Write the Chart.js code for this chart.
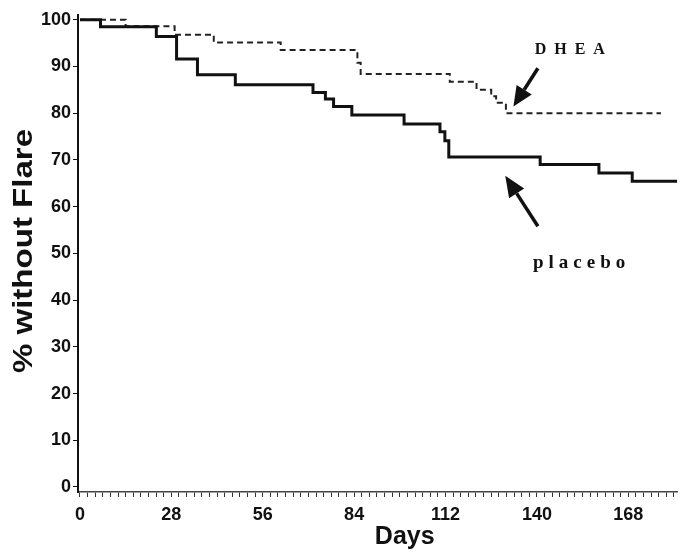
<!DOCTYPE html>
<html>
<head>
<meta charset="utf-8">
<script src="https://cdn.jsdelivr.net/npm/chart.js@4.4.0/dist/chart.umd.min.js"></script>
<style>
  html, body { margin: 0; padding: 0; background: #fff; }
  #wrap { width: 681px; height: 552px; }
</style>
</head>
<body>
<div id="wrap"><canvas id="km"></canvas></div>
<script>
// Kaplan-Meier steps (day where the step starts, % without flare)
const placeboDays = [0, 6.3, 23.4, 29.6, 36, 47.6, 71.4, 75.2, 77.7, 83.3, 99.3, 110.3, 111.8, 113, 141, 159, 169.2, 183];
const placeboPct  = [100, 98.5, 96.4, 91.6, 88.2, 86.1, 84.4, 83.0, 81.4, 79.6, 77.7, 76.0, 74.1, 70.6, 69.0, 67.2, 65.4, 65.4];
const dheaDays = [0, 14, 29, 41, 61.5, 85, 86, 113.3, 121.5, 126, 127.5, 130.5, 178];
const dheaPct  = [100, 98.6, 96.8, 95.1, 93.5, 90.8, 88.4, 86.7, 85.0, 83.6, 82.2, 80.0, 80.0];

const xTickLabels = [0, 28, 56, 84, 112, 140, 168];
const yTickLabels = [0, 10, 20, 30, 40, 50, 60, 70, 80, 90, 100];
const xMinorPerMajor = 12;

function toPoints(days, pct) {
  return days.map(function (d, i) { return { x: d, y: pct[i] }; });
}

// minor tick positions along the day axis
var xTicks = [];
for (var i = 0; i * 28 / xMinorPerMajor <= 183; i++) {
  xTicks.push({ value: i * 28 / xMinorPerMajor, major: i % xMinorPerMajor === 0 });
}

function drawArrow(ctx, x0, y0, x1, y1, len, half) {
  var a = Math.atan2(y1 - y0, x1 - x0);
  var bx = x1 - len * Math.cos(a), by = y1 - len * Math.sin(a);
  ctx.beginPath();
  ctx.moveTo(x0, y0);
  ctx.lineTo(bx, by);
  ctx.stroke();
  ctx.beginPath();
  ctx.moveTo(x1, y1);
  ctx.lineTo(bx + half * Math.sin(a), by - half * Math.cos(a));
  ctx.lineTo(bx - half * Math.sin(a), by + half * Math.cos(a));
  ctx.closePath();
  ctx.fill();
}

const notes = {
  id: "notes",
  afterDraw(chart) {
    var ctx = chart.ctx;
    var x = chart.scales.x, y = chart.scales.y;
    ctx.save();
    ctx.fillStyle = "#111";
    ctx.strokeStyle = "#111";

    // series labels
    ctx.font = 'bold 16px "Liberation Serif"';
    ctx.textBaseline = "alphabetic";
    ctx.textAlign = "left";
    ctx.letterSpacing = "8px";
    ctx.fillText("DHEA", x.getPixelForValue(139.3), y.getPixelForValue(92.6));
    ctx.font = 'bold 19px "Liberation Serif"';
    ctx.letterSpacing = "5px";
    ctx.fillText("placebo", x.getPixelForValue(138.8), y.getPixelForValue(46.8));
    ctx.letterSpacing = "0px";

    // arrows
    ctx.lineWidth = 3.5;
    drawArrow(ctx, x.getPixelForValue(140.3), y.getPixelForValue(89.6),
                   x.getPixelForValue(132.8), y.getPixelForValue(81.4), 20, 9);
    drawArrow(ctx, x.getPixelForValue(140.3), y.getPixelForValue(55.8),
                   x.getPixelForValue(130.3), y.getPixelForValue(66.6), 21, 9);

    // axis titles
    ctx.font = 'bold 25px "Liberation Sans"';
    ctx.textAlign = "center";
    ctx.textBaseline = "middle";
    ctx.fillText("Days", x.getPixelForValue(99.5), chart.height - 15);

    ctx.translate(y.left + 24, y.getPixelForValue(50.5));
    ctx.rotate(-Math.PI / 2);
    ctx.scale(1.18, 1);
    ctx.font = 'bold 28px "Liberation Sans"';
    ctx.fillText("% without Flare", 0, 0);
    ctx.restore();
  }
};

const tickFont = { family: '"Liberation Sans", Arial, sans-serif', size: 18, weight: "bold" };

new Chart(document.getElementById("km"), {
  type: "line",
  data: {
    datasets: [
      {
        label: "placebo",
        data: toPoints(placeboDays, placeboPct),
        stepped: true,
        borderColor: "#111",
        borderWidth: 3,
        pointRadius: 0,
        fill: false,
      },
      {
        label: "DHEA",
        data: toPoints(dheaDays, dheaPct),
        stepped: true,
        borderColor: "#222",
        borderWidth: 2,
        borderDash: [6, 4],
        pointRadius: 0,
        fill: false,
      },
    ],
  },
  options: {
    responsive: true,
    maintainAspectRatio: false,
    animation: false,
    layout: { padding: { top: 15, right: 0, left: 0, bottom: 0 } },
    plugins: { legend: { display: false }, tooltip: { enabled: false } },
    scales: {
      x: {
        type: "linear",
        min: -0.6,
        max: 183,
        afterBuildTicks: function (scale) {
          scale.ticks = xTicks.map(function (t) { return { value: t.value }; });
        },
        afterFit: function (scale) { scale.height = 60; },
        ticks: {
          autoSkip: false,
          maxRotation: 0,
          padding: 7,
          color: "#111",
          font: tickFont,
          callback: function (value, index) {
            return xTicks[index] && xTicks[index].major ? xTickLabels[index / xMinorPerMajor] : "";
          },
        },
        grid: { drawOnChartArea: false, drawTicks: true, tickLength: 5, color: "#333" },
        border: { display: true, color: "#444", width: 1.5 },
      },
      y: {
        type: "linear",
        min: -1.07,
        max: 101,
        afterBuildTicks: function (scale) {
          scale.ticks = yTickLabels.map(function (v) { return { value: v }; });
        },
        afterFit: function (scale) { scale.width = 78; },
        ticks: { padding: 2, color: "#111", font: tickFont },
        grid: { drawOnChartArea: false, drawTicks: true, tickLength: 5, color: "#111" },
        border: { display: true, color: "#111", width: 2 },
      },
    },
  },
  plugins: [notes],
});
</script>
</body>
</html>
